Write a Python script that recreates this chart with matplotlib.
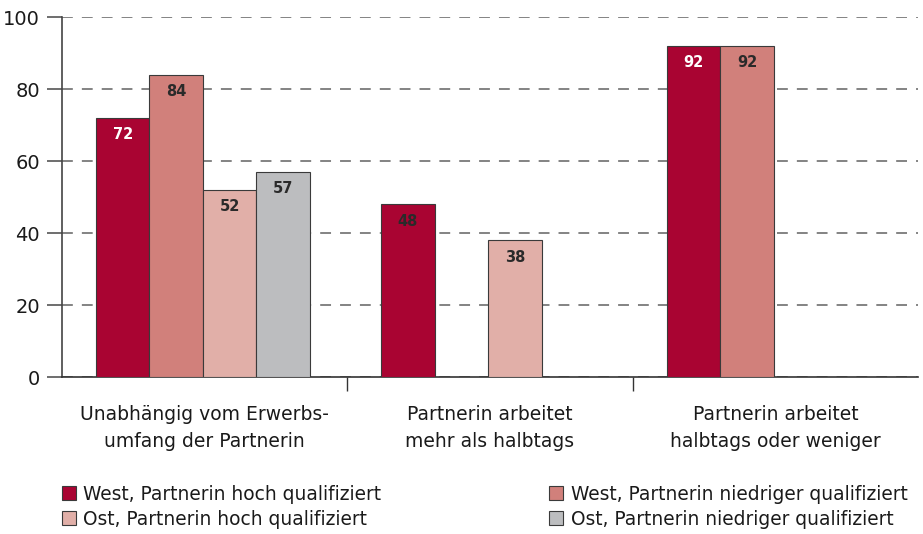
import numpy as np
import matplotlib.pyplot as plt
from matplotlib.patches import Patch

plt.rcParams['font.family'] = ['DejaVu Sans']

# Daten
groups = ["Unabhängig vom Erwerbs-\numfang der Partnerin",
          "Partnerin arbeitet\nmehr als halbtags",
          "Partnerin arbeitet\nhalbtags oder weniger"]
series = ["West, Partnerin hoch qualifiziert",
          "West, Partnerin niedriger qualifiziert",
          "Ost, Partnerin hoch qualifiziert",
          "Ost, Partnerin niedriger qualifiziert"]
west_hoch = [72, 48, 92]
west_niedrig = [84, None, 92]
ost_hoch = [52, 38, None]
ost_niedrig = [57, None, None]

colors = ["#A90432", "#D1807B", "#E1AFA8", "#BCBDBF"]
# Farbe der Wertebeschriftung je Balken (48 ist im Original dunkel)
text_colors = [["white", "#2a2a2a", "white"],
               ["#2a2a2a"] * 3,
               ["#2a2a2a"] * 3,
               ["#2a2a2a"] * 3]

fig = plt.figure(figsize=(9.23, 5.34), dpi=100)
ax = fig.add_axes([0.0672, 0.294, 0.9274, 0.674])

width = 0.1875
x = np.arange(len(groups)) - 0.006
all_series = [west_hoch, west_niedrig, ost_hoch, ost_niedrig]
for i, vals in enumerate(all_series):
    offs = (i - 1.5) * width
    for j, v in enumerate(vals):
        if v is None:
            continue
        ax.bar(x[j] + offs, v, width, color=colors[i], edgecolor="#3a3a3a",
               linewidth=0.8, zorder=3)
        ax.text(x[j] + offs, v - 2.6, str(v), ha="center", va="top",
                fontsize=10.5, fontweight="bold", color=text_colors[i][j], zorder=4)

ax.set_xlim(-0.5, 2.5)
ax.set_ylim(0, 100)
ax.set_yticks([0, 20, 40, 60, 80, 100])
ax.yaxis.grid(True, color="#7a7a7a", linestyle=(0, (6, 5)), linewidth=1.3, zorder=0)
ax.set_axisbelow(True)
ax.tick_params(axis="y", length=11, width=1.2, color="#555555", labelsize=14,
               labelcolor="#1a1a1a", pad=5)
ax.set_xticks([0.5, 1.5])
ax.set_xticklabels([])
ax.tick_params(axis="x", length=10, width=1.0, color="#333333", direction="out")

for s in ["top", "right"]:
    ax.spines[s].set_visible(False)
ax.spines["left"].set_color("#444444")
ax.spines["left"].set_linewidth(1.2)
ax.spines["bottom"].set_color("#333333")
ax.spines["bottom"].set_linewidth(1.2)

for j, g in enumerate(groups):
    ax.text(j, -7.8, g, ha="center", va="top", fontsize=13.5, color="#1a1a1a",
            linespacing=1.5, clip_on=False)

handles = [Patch(facecolor=c, edgecolor="#3a3a3a", linewidth=0.8) for c in colors]
leg_kw = dict(frameon=False, fontsize=13.4, handlelength=0.75, handleheight=0.75,
              handletextpad=0.4, labelspacing=0.32, borderaxespad=0.0, borderpad=0.0)
leg1 = fig.legend([handles[0], handles[2]], [series[0], series[2]], loc="lower left",
                  bbox_to_anchor=(0.067, 0.01), **leg_kw)
leg2 = fig.legend([handles[1], handles[3]], [series[1], series[3]], loc="lower left",
                  bbox_to_anchor=(0.595, 0.01), **leg_kw)
for lg in (leg1, leg2):
    for t in lg.get_texts():
        t.set_color("#1a1a1a")

fig.savefig("out.png", dpi=100)
